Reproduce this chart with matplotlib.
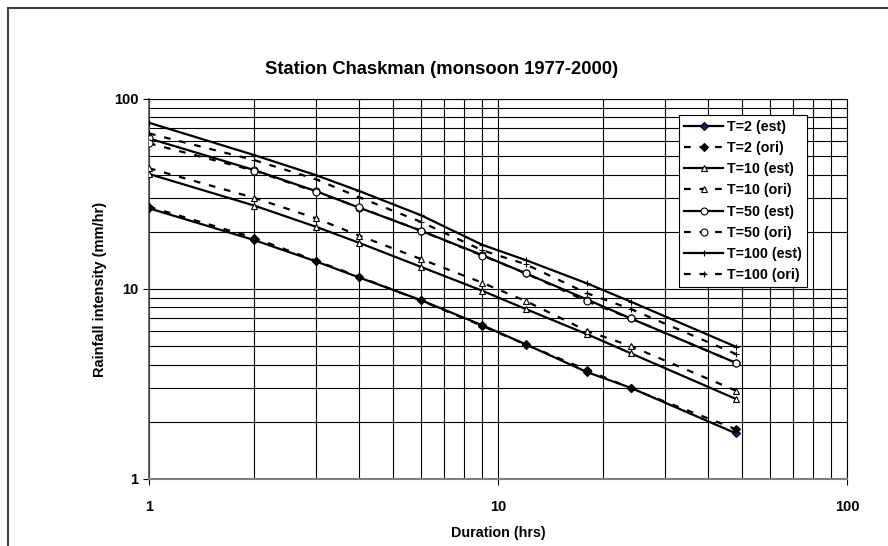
import matplotlib
matplotlib.use("Agg")
import matplotlib.pyplot as plt
from matplotlib.patches import Rectangle

plt.rcParams['font.family'] = ['Liberation Sans', 'DejaVu Sans']
plt.rcParams['font.weight'] = 'bold'

# duration (hrs) and rainfall intensity (mm/hr)
durations = [1, 2, 3, 4, 6, 9, 12, 18, 24, 48]
t2_est = [26.6, 18.1, 14.0, 11.5, 8.75, 6.45, 5.12, 3.65, 3.02, 1.74]
t2_ori = [27.1, 18.6, 14.1, 11.6, 8.7, 6.4, 5.1, 3.75, 3.0, 1.83]
t10_est = [40.3, 27.5, 21.3, 17.5, 13.1, 9.8, 7.85, 5.78, 4.59, 2.64]
t10_ori = [43.2, 30.2, 23.6, 19.1, 14.4, 10.8, 8.65, 6.01, 5.01, 2.92]
t50_est = [62.0, 42.3, 32.8, 26.8, 20.3, 15.1, 12.1, 8.8, 7.0, 4.09]
t50_ori = [58.5, 42.0, 32.5, 26.9, 20.3, 15.0, 12.1, 8.6, 7.0, 4.09]
t100_est = [75.0, 50.7, 39.8, 32.8, 24.5, 17.1, 14.2, 10.7, 8.58, 4.97]
t100_ori = [65.9, 47.7, 37.9, 30.4, 22.6, 16.0, 13.5, 9.49, 7.85, 4.55]

series = [
    ('T=2 (est)', t2_est, '-', 'D', '#1a1a6e'),
    ('T=2 (ori)', t2_ori, '--', 'D', 'black'),
    ('T=10 (est)', t10_est, '-', '^', 'white'),
    ('T=10 (ori)', t10_ori, '--', '^', 'white'),
    ('T=50 (est)', t50_est, '-', 'o', 'white'),
    ('T=50 (ori)', t50_ori, '--', 'o', 'white'),
    ('T=100 (est)', t100_est, '-', '+', 'black'),
    ('T=100 (ori)', t100_ori, '--', '+', 'black'),
]

fig = plt.figure(figsize=(8.88, 5.46), dpi=100)
fig.patches.append(Rectangle((8 / 888, -0.1), 1.2, 1 - 8 / 546 + 0.1,
                             transform=fig.transFigure, fill=False,
                             edgecolor='#404040', linewidth=1.5))
ax = fig.add_axes([149 / 888, 67 / 546, 698 / 888, 380 / 546])

for label, vals, ls, mk, fc in series:
    line, = ax.plot(durations, vals, color='black', linestyle=ls, linewidth=1.6,
                    marker=mk, markersize=5 if mk != 'D' else 4,
                    markerfacecolor=fc, markeredgecolor='black',
                    markeredgewidth=0.8, label=label, zorder=3)
    if ls == '--':
        line.set_dashes((3, 4))

ax.set_xscale('log')
ax.set_yscale('log')
ax.set_xlim(1, 100)
ax.set_ylim(1, 100)

ax.grid(True, which='both', color='black', linewidth=0.8)
ax.tick_params(which='minor', length=0)
ax.tick_params(which='major', length=4, labelsize=10.5, width=0.8)
ax.set_xticks([1, 10, 100])
ax.set_yticks([1, 10, 100])
ax.set_xticklabels(['1', '10', '100'], fontweight='bold')
ax.set_yticklabels(['1', '10', '100'], fontweight='bold')
ax.tick_params(axis='x', pad=11)

for s in ['top', 'right']:
    ax.spines[s].set_color('black')
    ax.spines[s].set_linewidth(0.8)
ax.spines['bottom'].set_color('#808080')
ax.spines['bottom'].set_linewidth(1.5)
ax.spines['left'].set_color('#505050')
ax.spines['left'].set_linewidth(1.2)

ax.set_xlabel('Duration (hrs)', fontsize=10.3, fontweight='bold', labelpad=9)
ax.set_ylabel('Rainfall intensity (mm/hr)', fontsize=10.5, fontweight='bold', labelpad=5)
fig.text(0.497, 1 - 70 / 546, 'Station Chaskman (monsoon 1977-2000)',
         ha='center', va='center', fontsize=13.2, fontweight='bold')

leg = ax.legend(loc='upper right', bbox_to_anchor=(0.943, 0.958),
                fontsize=10.3, handlelength=2.7, labelspacing=0.5,
                borderpad=0.35, handletextpad=0.3, fancybox=False,
                framealpha=1, borderaxespad=0)
leg.get_frame().set_edgecolor('black')
leg.get_frame().set_linewidth(0.8)
for t in leg.get_texts():
    t.set_fontweight('bold')

fig.savefig('out.png', dpi=100)
